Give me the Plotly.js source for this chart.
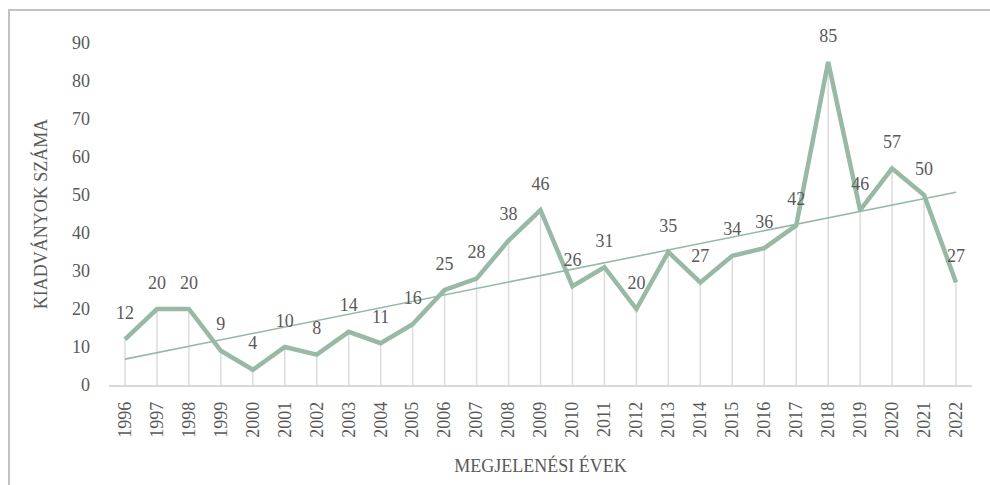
<!DOCTYPE html>
<html>
<head>
<meta charset="utf-8">
<script src="https://cdn.plot.ly/plotly-3.0.1.min.js"></script>
<style>
html,body{margin:0;padding:0;background:#fff;overflow:hidden;}
#wrap{position:relative;width:990px;height:485px;overflow:hidden;}
#frame{position:absolute;left:8px;top:9px;width:1200px;height:600px;border:2px solid #c2c2c2;box-sizing:border-box;}
#chart{position:absolute;left:0;top:0;width:990px;height:485px;}
</style>
</head>
<body>
<div id="wrap">
<div id="frame"></div>
<div id="chart"></div>
</div>
<script>
const years = ["1996","1997","1998","1999","2000","2001","2002","2003","2004","2005","2006","2007","2008","2009","2010","2011","2012","2013","2014","2015","2016","2017","2018","2019","2020","2021","2022"];
const counts = [12,20,20,9,4,10,8,14,11,16,25,28,38,46,26,31,20,35,27,34,36,42,85,46,57,50,27];
const yTicks = [0,10,20,30,40,50,60,70,80,90];

const lineColor = "#97b9a6";
const textColor = "#595959";
const font = "Liberation Serif";

// linear trendline (least squares on category index)
const n = counts.length;
const idx = counts.map((_, i) => i);
const mx = idx.reduce((a, b) => a + b, 0) / n;
const my = counts.reduce((a, b) => a + b, 0) / n;
let sxy = 0, sxx = 0;
for (let i = 0; i < n; i++) { sxy += (i - mx) * (counts[i] - my); sxx += (i - mx) * (i - mx); }
const slope = sxy / sxx, icpt = my - slope * mx;
const trend = idx.map(i => icpt + slope * i);

// drop lines
const dx = [], dy = [];
years.forEach((yr, i) => { dx.push(yr, yr, null); dy.push(0, counts[i], null); });

const traces = [
  {x: dx, y: dy, mode: "lines", line: {color: "#dcdcdc", width: 1.5}, hoverinfo: "skip", showlegend: false},
  {x: years, y: counts, mode: "lines", line: {color: lineColor, width: 4.5}, showlegend: false},
  {x: years, y: trend, mode: "lines", line: {color: lineColor, width: 1.6}, showlegend: false},
  {x: years, y: counts, mode: "markers+text", text: counts.map(String), textposition: "top center",
   marker: {size: 24, color: "rgba(0,0,0,0)", line: {width: 0}},
   textfont: {family: font, size: 18, color: textColor}, cliponaxis: false, showlegend: false}
];

const layout = {
  width: 990, height: 485,
  margin: {l: 109, r: 18, t: 43, b: 100},
  paper_bgcolor: "rgba(0,0,0,0)", plot_bgcolor: "rgba(0,0,0,0)",
  font: {family: font, color: textColor, size: 18},
  showlegend: false,
  xaxis: {
    type: "category", tickangle: -90, showgrid: false, zeroline: false,
    showline: true, linecolor: "#d9d9d9", linewidth: 1.5, ticks: "",
    tickfont: {family: font, size: 18, color: textColor},
    ticklabelstandoff: 8,
    title: {text: "MEGJELENÉSI ÉVEK", font: {family: font, size: 18, color: textColor}, standoff: 22},
    range: [-0.5, n - 0.5]
  },
  yaxis: {
    range: [0, 90], tickvals: yTicks, showgrid: false, zeroline: false, showline: false, ticks: "",
    tickfont: {family: font, size: 18, color: textColor},
    ticklabelstandoff: 18,
    title: {text: "KIADVÁNYOK SZÁMA", font: {family: font, size: 18, color: textColor}, standoff: 19}
  }
};

Plotly.newPlot("chart", traces, layout, {displayModeBar: false, staticPlot: true});
</script>
</body>
</html>
